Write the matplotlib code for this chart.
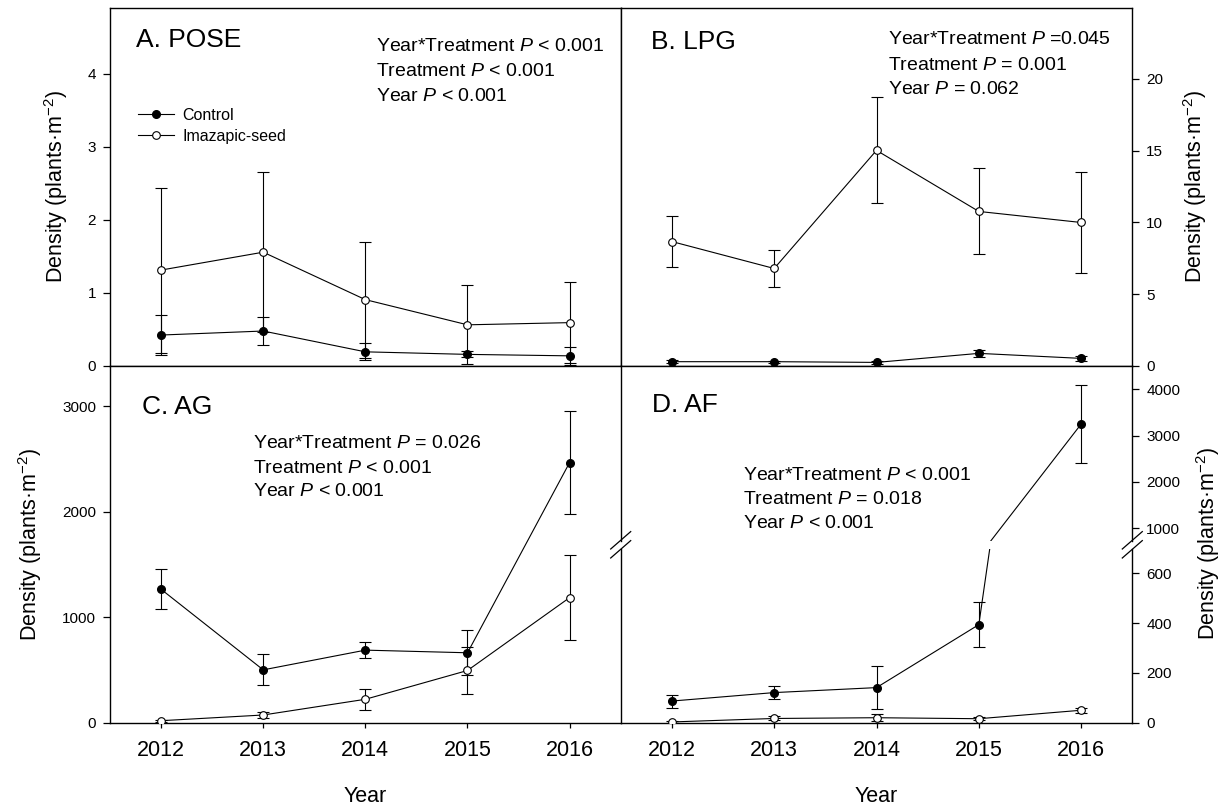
import matplotlib
matplotlib.use("Agg")
import matplotlib.pyplot as plt
from matplotlib.lines import Line2D

plt.rcParams['font.family'] = ['Liberation Sans', 'DejaVu Sans']
plt.rcParams['mathtext.fontset'] = 'custom'
plt.rcParams['mathtext.rm'] = 'Liberation Sans'
plt.rcParams['mathtext.it'] = 'Liberation Sans:italic'

years = [2012, 2013, 2014, 2015, 2016]

# A. POSE
pose_ctrl = [0.42, 0.475, 0.19, 0.155, 0.135]
pose_ctrl_se = [0.27, 0.19, 0.115, 0.04, 0.125]
pose_imaz = [1.31, 1.555, 0.905, 0.56, 0.59]
pose_imaz_se = [1.13, 1.10, 0.795, 0.54, 0.553]

# B. LPG
lpg_ctrl = [0.28, 0.28, 0.23, 0.86, 0.51]
lpg_ctrl_se = [0.10, 0.08, 0.08, 0.25, 0.18]
lpg_imaz = [8.66, 6.78, 15.02, 10.76, 9.99]
lpg_imaz_se = [1.8, 1.3, 3.7, 3.0, 3.5]

# C. AG
ag_ctrl = [1265, 501, 688, 663, 2467]
ag_ctrl_se = [190, 146, 78, 215, 490]
ag_imaz = [19, 73, 222, 495, 1186]
ag_imaz_se = [10, 30, 100, 222, 400]

# D. AF
af_ctrl = [87, 121, 141, 394, 3250]
af_ctrl_se = [26, 27, 85, 91, 850]
af_imaz = [3, 17, 20, 16, 50]
af_imaz_se = [3, 8, 15, 5, 10]

stats = {
    'A': ['Year*Treatment $\\it{P}$ < 0.001', 'Treatment $\\it{P}$ < 0.001', 'Year $\\it{P}$ < 0.001'],
    'B': ['Year*Treatment $\\it{P}$ =0.045', 'Treatment $\\it{P}$ = 0.001', 'Year $\\it{P}$ = 0.062'],
    'C': ['Year*Treatment $\\it{P}$ = 0.026', 'Treatment $\\it{P}$ < 0.001', 'Year $\\it{P}$ < 0.001'],
    'D': ['Year*Treatment $\\it{P}$ < 0.001', 'Treatment $\\it{P}$ = 0.018', 'Year $\\it{P}$ < 0.001'],
}

ylab = 'Density (plants·m$^{-2}$)'

W, H = 1223, 810
fig = plt.figure(figsize=(W / 100, H / 100), dpi=100)


def box(l, t, r, b):
    return [l / W, 1 - b / H, (r - l) / W, (b - t) / H]


def fx(px):
    return px / W


def fy(py):
    return 1 - py / H


def draw(ax, ctrl, ctrl_se, imaz, imaz_se):
    ax.errorbar(years, ctrl, yerr=ctrl_se, color='black', lw=0.8, elinewidth=0.8,
                capsize=4.5, capthick=0.8, marker='o', ms=5.5, mfc='black', mec='black',
                zorder=3)
    ax.errorbar(years, imaz, yerr=imaz_se, color='black', lw=0.8, elinewidth=0.8,
                capsize=4.5, capthick=0.8, marker='o', ms=5.5, mfc='white', mec='black',
                mew=0.8, zorder=4)
    ax.set_xlim(2011.5, 2016.5)
    ax.set_xticks(years)
    for s in ax.spines.values():
        s.set_linewidth(1.0)
    ax.tick_params(axis='y', direction='out', length=5, width=0.9, labelsize=11, pad=5)
    ax.tick_params(axis='x', direction='out', length=3.5, width=0.9, labelsize=15.5, pad=9)


axA = fig.add_axes(box(110, 8, 620.7, 365.7))
axB = fig.add_axes(box(620.7, 8, 1132.3, 365.7))
axC = fig.add_axes(box(110, 365.7, 620.7, 722.7))
axDl = fig.add_axes(box(620.7, 548.5, 1132.3, 722.7))
axDu = fig.add_axes(box(620.7, 365.7, 1132.3, 541))

# A
draw(axA, pose_ctrl, pose_ctrl_se, pose_imaz, pose_imaz_se)
axA.set_ylim(0, 4.9)
axA.set_yticks([0, 1, 2, 3, 4])
axA.set_xticklabels([])
axA.set_ylabel(ylab, fontsize=15.5, va='center')
axA.yaxis.set_label_coords((56 - 110) / 510.7, 0.5)
handles = [Line2D([], [], color='black', lw=0.8, marker='o', ms=5.5, mfc='black', mec='black'),
           Line2D([], [], color='black', lw=0.8, marker='o', ms=5.5, mfc='white', mec='black', mew=0.8)]
axA.legend(handles, ['Control', 'Imazapic-seed'], loc='upper left',
           bbox_to_anchor=((137.6 - 110) / 510.7, 1 - (108 - 8) / 357.7),
           frameon=False, fontsize=11.5, handlelength=2.3, handletextpad=0.5,
           labelspacing=0.35, borderpad=0, borderaxespad=0)

# B
draw(axB, lpg_ctrl, lpg_ctrl_se, lpg_imaz, lpg_imaz_se)
axB.set_ylim(0, 24.95)
axB.set_yticks([0, 5, 10, 15, 20])
axB.set_xticklabels([])
axB.yaxis.tick_right()
axB.yaxis.set_label_position('right')
axB.set_ylabel(ylab, fontsize=15.5, va='center')
axB.yaxis.set_label_coords((1195 - 620.7) / 511.6, 0.5)

# C
draw(axC, ag_ctrl, ag_ctrl_se, ag_imaz, ag_imaz_se)
axC.set_ylim(0, 3385)
axC.set_yticks([0, 1000, 2000, 3000])
axC.spines['right'].set_visible(False)
axC.set_ylabel(ylab, fontsize=15.5, va='center')
axC.yaxis.set_label_coords((30 - 110) / 510.7, 0.5)
axC.set_xlabel('Year', fontsize=15.5, va='center')
axC.xaxis.set_label_coords(0.5, -(797 - 722.7) / 357)

# D (broken axis)
for ax in (axDl, axDu):
    draw(ax, af_ctrl, af_ctrl_se, af_imaz, af_imaz_se)
    ax.yaxis.tick_right()
axDl.set_ylim(0, 700)
axDl.set_yticks([0, 200, 400, 600])
axDl.spines['top'].set_visible(False)
axDl.set_xlabel('Year', fontsize=15.5, va='center')
axDl.xaxis.set_label_coords(0.5, -(797 - 722.7) / 174.2)
axDu.set_ylim(726, 4510)
axDu.set_yticks([1000, 2000, 3000, 4000])
axDu.spines['bottom'].set_visible(False)
axDu.tick_params(axis='x', bottom=False, labelbottom=False)
fig.text(fx(1208), fy(544), ylab, rotation=90, ha='center', va='center', fontsize=15.5)

# break marks
for xb in (620.7, 1132.3):
    for yc in (540.3, 549.3):
        fig.add_artist(Line2D([fx(xb - 10), fx(xb + 10)], [fy(yc + 8.7), fy(yc - 8.7)],
                              transform=fig.transFigure, color='black', lw=0.9))

# panel titles
titles = [('A. POSE', 136.4, 40), ('B. LPG', 651, 41.7), ('C. AG', 141.7, 407.3), ('D. AF', 651.6, 405)]
for t, x, y in titles:
    fig.text(fx(x), fy(y), t, fontsize=19, ha='left', va='center')

# statistics text
stat_pos = {'A': (375.6, [46.7, 71.7, 96.3]), 'B': (888, [40, 65, 89.3]),
            'C': (253, [443.3, 468.3, 491.7]), 'D': (743, [475, 500, 524])}
for k, (x, ys) in stat_pos.items():
    for line, y in zip(stats[k], ys):
        fig.text(fx(x), fy(y), line, fontsize=14, ha='left', va='center')

fig.savefig('out.png', dpi=100)
